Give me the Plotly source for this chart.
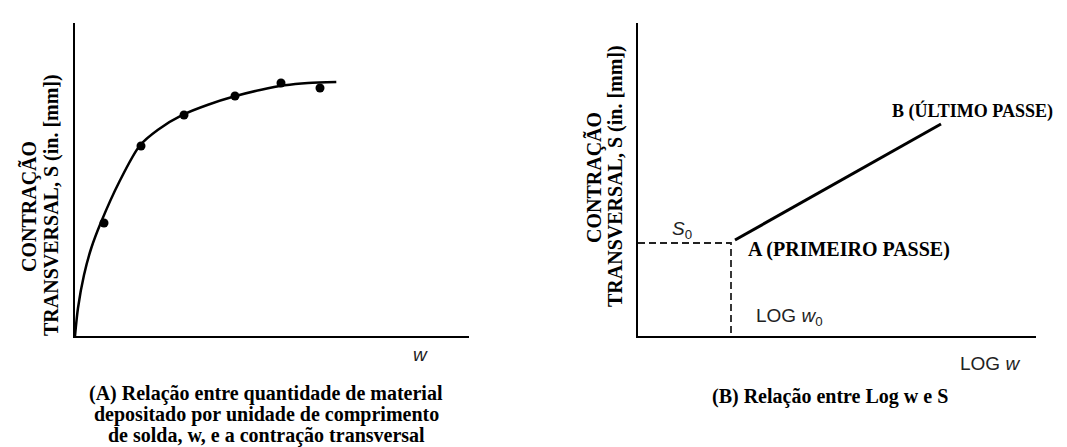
import plotly.graph_objects as go

W, H = 1067, 447

# ---- data (arbitrary units) ----
# Left chart: deposited material w vs transverse shrinkage S
curve_w = [0.0, 0.3, 0.9, 1.63, 2.57, 4.47, 6.47, 8.3, 10.8, 13.3, 15.97, 18.63, 20.97, 23.3, 26.13]
curve_s = [0.0, 2.8, 6.1, 8.8, 11.3, 15.5, 19.03, 20.63, 22.13, 23.13, 23.97, 24.63, 25.07, 25.3, 25.4]
point_w = [2.9, 6.6, 10.9, 16.0, 20.6, 24.5]
point_s = [11.3, 19.0, 22.1, 24.0, 25.3, 24.8]

# Right chart: log w vs S
line_logw = [9.7, 30.3]
line_s = [9.6, 21.2]
logw0 = 9.3
s0 = 9.3

SERIF = "Liberation Serif"
SANS = "Liberation Sans"


def px(x):
    return x / W


def py(y):
    return 1 - y / H


fig = go.Figure()

fig.add_trace(go.Scatter(x=curve_w, y=curve_s, mode="lines",
                         line=dict(color="black", width=2.5, shape="spline", smoothing=0.8),
                         xaxis="x", yaxis="y", hoverinfo="skip"))
fig.add_trace(go.Scatter(x=point_w, y=point_s, mode="markers", marker=dict(color="black", size=9),
                         xaxis="x", yaxis="y", hoverinfo="skip"))

fig.add_trace(go.Scatter(x=[0, logw0, logw0], y=[s0, s0, 0], mode="lines",
                         line=dict(color="#222", width=1.8, dash="7px,4px"), xaxis="x2", yaxis="y2", hoverinfo="skip"))
fig.add_trace(go.Scatter(x=line_logw, y=line_s, mode="lines", line=dict(color="black", width=3),
                         xaxis="x2", yaxis="y2", hoverinfo="skip"))

ax_common = dict(showgrid=False, zeroline=False, showticklabels=False, ticks="",
                 showline=True, linecolor="black", linewidth=2, fixedrange=True)

fig.update_layout(
    width=W, height=H,
    margin=dict(l=0, r=0, t=0, b=0),
    paper_bgcolor="white", plot_bgcolor="white",
    showlegend=False,
    xaxis=dict(domain=[px(67), px(461)], range=[0, 39.4], anchor="y", **ax_common),
    yaxis=dict(domain=[py(328), py(15)], range=[0, 31.3], anchor="x", **ax_common),
    xaxis2=dict(domain=[px(630), px(1028)], range=[0, 39.8], anchor="y2", **ax_common),
    yaxis2=dict(domain=[py(328), py(15)], range=[0, 31.3], anchor="x2", **ax_common),
)

ann = []


def add(text, x, y, size=20, family=SERIF, xanchor="center", angle=0, color="black"):
    ann.append(dict(text=text, x=px(x), y=py(y), xref="paper", yref="paper", showarrow=False,
                    xanchor=xanchor, yanchor="middle", textangle=angle,
                    font=dict(family=family, size=size, color=color)))


# y-axis titles
add("<b>CONTRAÇÃO</b>", 21, 199, angle=-90)
add("<b>TRANSVERSAL, S (in. [mm])</b>", 43, 197, angle=-90)
add("<b>CONTRAÇÃO</b>", 586, 170, angle=-90)
add("<b>TRANSVERSAL, S (in. [mm])</b>", 607, 168, angle=-90)

# axis labels (sans)
add("<i>w</i>", 412, 346, size=19, family=SANS, color="#222")
add("LOG <i>w</i>", 982, 355, size=19, family=SANS, color="#222")
add("LOG <i>w</i><sub>0</sub>", 781, 309, size=19, family=SANS, color="#222")
add("<i>S</i><sub>0</sub>", 674, 222, size=19, family=SANS, color="#222")

# point labels
add("<b>A (PRIMEIRO PASSE)</b>", 738, 241, xanchor="left")
add("<b>B (ÚLTIMO PASSE)</b>", 882, 103, size=18, xanchor="left")

# captions
add("<b>(A) Relação entre quantidade de material</b>", 258, 385)
add("<b>depositado por unidade de comprimento</b>", 258, 406)
add("<b>de solda, w, e a contração transversal</b>", 258, 427)
add("<b>(B) Relação entre Log w e S</b>", 822, 388)

fig.update_layout(annotations=ann)

fig.write_html("out.html")
